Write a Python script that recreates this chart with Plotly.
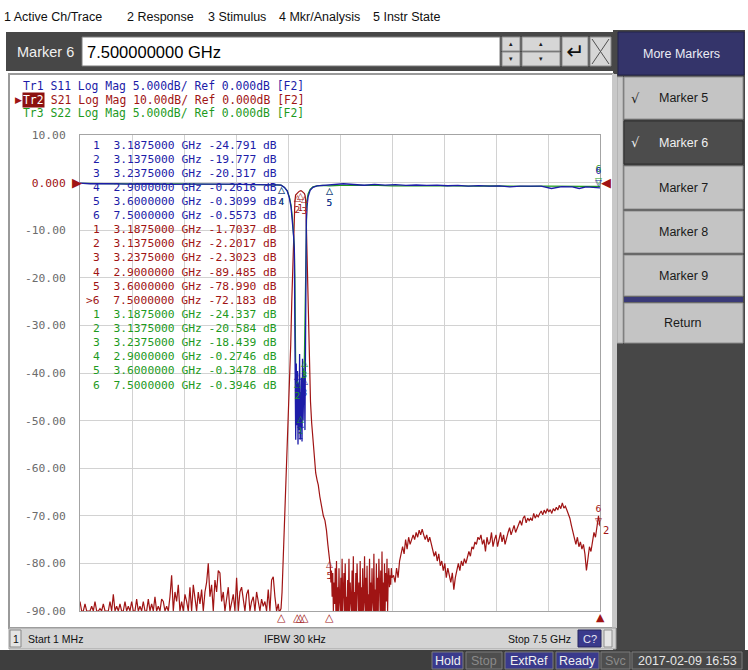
import numpy as np
import plotly.graph_objects as go

# ------------------------------------------------------------------ data
marker_ids = ["1", "2", "3", "4", "5", "6"]
marker_freq_ghz = [3.1875, 3.1375, 3.2375, 2.9, 3.6, 7.5]
s11_marker_db = [-24.791, -19.777, -20.317, -0.2616, -0.3099, -0.5573]
s21_marker_db = [-1.7037, -2.2017, -2.3023, -89.485, -78.990, -72.183]
s22_marker_db = [-24.337, -20.584, -18.439, -0.2746, -0.3478, -0.3946]
active_marker = "6"

y_tick_vals = [10, 0, -10, -20, -30, -40, -50, -60, -70, -80, -90]

# S21 (10 dB/div) - low-frequency noise floor, sweep grid 0.001..2.86 GHz
s21_low_f = np.linspace(0.001, 2.86, 120)
s21_low_db = [
    -88, -90, -90, -88.5, -90, -90, -90, -89, -90, -88, -90, -90, -89.5, -90, -88.5,
    -90, -90, -90, -88, -90, -86.5, -90, -89, -90, -88.5, -90, -90, -88, -90, -89,
    -90, -88, -90, -90, -87.5, -90, -89, -90, -88, -90, -90, -87.5, -90, -88.5, -90,
    -87, -90, -89, -90, -87.5, -88, -90, -89, -90, -87, -82.5, -90, -86, -88, -84.5,
    -90, -88,
    -90, -86.5, -88, -90, -85, -90, -84.5, -87, -90, -86, -88.5, -85.5, -90, -86, -84,
    -80, -87, -84.5, -90, -83.5, -86, -81.5, -82, -88, -86, -90, -87.5, -85, -90, -88,
    -86.5, -90,
    -83, -90, -86, -85, -88, -90, -86.5, -85.5, -90, -88, -87, -90, -86, -88.5, -90,
    -87.5, -89, -88, -90, -85.5, -90, -83.5, -82.8, -87, -90, -88.5,
]
# S21 - passband lobe
s21_lobe_f = [2.872, 2.885, 2.9, 2.915, 2.93, 2.945, 2.96, 2.98, 3.0, 3.02,
              3.04, 3.055, 3.07, 3.082, 3.092, 3.1, 3.11, 3.125, 3.1375, 3.15,
              3.165, 3.175, 3.1875, 3.2, 3.215, 3.228, 3.2375, 3.248, 3.256, 3.263,
              3.27, 3.28, 3.293, 3.31, 3.325, 3.342, 3.36, 3.38, 3.4, 3.42,
              3.437, 3.46, 3.485, 3.51, 3.534, 3.555, 3.575, 3.59, 3.6]
s21_lobe_db = [-90, -90, -89.485, -86, -80, -74, -69, -62, -54, -45,
               -34, -25, -16, -11, -7, -4, -2.6, -2.3, -2.2017, -2.0,
               -1.8, -1.75, -1.7037, -1.8, -2.0, -2.2, -2.3023, -2.8, -4, -7.5,
               -12, -19, -30, -40, -46, -50.5, -54.5, -58, -61, -62.5,
               -63.5, -66, -68.5, -70, -71, -73, -76, -78, -78.99]
# S21 - dense noise just above the passband, sweep grid 3.61..4.50 GHz
s21_noise_f = np.linspace(3.61, 4.50, 100)
s21_noise_db = [
    -80.5, -84, -81.5, -87, -82, -90, -84, -88.5, -81, -90,
    -79.5, -90, -85, -90, -81, -88, -90, -83, -90, -79,
    -90, -86, -82, -90, -80, -90, -87, -90, -83.5, -90,
    -79, -90, -84, -88, -90, -81.5, -90, -78.5, -90, -86,
    -90, -82, -90, -80, -87, -90, -84, -90, -79.5, -90,
    -85, -90, -81, -90, -88, -78.5, -90, -83, -90, -80.5,
    -90, -86.5, -90, -79, -90, -84, -90, -81, -88, -90,
    -78, -90, -85.5, -90, -80, -90, -83, -90, -79, -87,
    -90, -81.5, -90, -77.5, -90, -84, -90, -80, -90, -82,
    -88, -79, -90, -83, -81, -85, -82.5, -84.5, -81, -83,
]
# S21 - upper stopband, sweep grid 4.52..7.5 GHz
s21_high_f = np.linspace(4.5227, 7.5, 138)
s21_high_db = [
    -82.5, -84, -81, -83, -79.5, -78,
    -76.5, -78, -75, -77, -74.5, -76, -75, -74,
    -75, -73.5, -74.5, -73, -74, -72.8, -74,
    -75, -74, -75.5, -74.5, -76,
    -77, -78.5, -77.5, -79.5, -78, -80.5, -79.5,
    -81.5, -80, -83, -81, -82.5, -84, -82, -85.5, -83, -81,
    -80, -81.5, -79.5, -80.5, -79, -80, -78.5,
    -77.5, -78.5, -76.5, -77, -75.5, -76, -74.5, -75,
    -74, -76, -75, -77.5, -74.5, -76, -75.5, -73.5, -76.5, -75, -74, -76.5, -75,
    -73.5, -75.5, -74, -76, -74.5,
    -73.5, -72.5, -74, -73, -72, -73.5, -72.5, -71.5,
    -71, -72, -70.5, -70, -71.5, -70.5, -71,
    -70.5, -71, -69.5, -70.5, -69.8, -70.2, -69.5,
    -69, -69.8, -68.8, -69.5, -68.5, -69.2, -68.7, -69.5, -68.5, -69,
    -68.2, -68.8, -67.8, -68.5, -67.3, -68.4, -68, -68.8,
    -69.5, -70.5, -72, -73.5,
    -75, -76, -74.5, -76.5, -75.5, -77, -76,
    -78, -81.5, -79, -76.5, -77.5,
    -75, -73.5, -74.5, -71.5, -70, -72.183,
]

# S11 (5 dB/div)
s11_f = [0.001, 0.15, 0.4, 0.7, 1.0, 1.3, 1.6, 1.9, 2.2, 2.5,
         2.7, 2.85, 2.9, 2.95, 2.99, 3.02, 3.045, 3.065, 3.08, 3.092,
         3.1, 3.105, 3.112, 3.12, 3.128, 3.1375, 3.145, 3.152, 3.16, 3.168,
         3.176, 3.1875, 3.195, 3.203, 3.21, 3.218, 3.226, 3.2375, 3.245, 3.252,
         3.258, 3.265, 3.275, 3.29, 3.32, 3.36, 3.42, 3.5, 3.6,
         3.7, 3.8, 3.95, 4.1, 4.25, 4.4, 4.55, 4.7, 4.85, 5.0,
         5.15, 5.3, 5.45, 5.6, 5.75, 5.9, 6.05, 6.2, 6.35, 6.5,
         6.65, 6.8, 6.95, 7.1, 7.2, 7.3, 7.4, 7.5]
s11_db = [-0.05, -0.12, -0.1, -0.15, -0.12, -0.18, -0.15, -0.2, -0.17, -0.22,
          -0.2, -0.24, -0.2616, -0.5, -0.9, -1.6, -2.6, -4, -5.5, -7,
          -12, -21, -27, -19, -25.5, -19.777, -27.5, -21, -26, -18,
          -27, -24.791, -20.5, -27.2, -18.5, -25, -22, -20.317, -26, -16,
          -7, -4, -2.5, -1.5, -0.8, -0.5, -0.35, -0.3, -0.3099,
          -0.25, -0.12, -0.2, -0.28, -0.18, -0.26, -0.22, -0.3, -0.25, -0.3,
          -0.27, -0.33, -0.3, -0.36, -0.32, -0.38, -0.34, -0.45, -0.36, -0.4,
          -0.38, -0.62, -0.42, -0.45, -0.62, -0.44, -0.5, -0.5573]

# S22 (5 dB/div)
s22_f = [0.001, 0.2, 0.5, 0.8, 1.1, 1.4, 1.7, 2.0, 2.3, 2.6,
         2.8, 2.9, 2.95, 2.99, 3.02, 3.045, 3.065, 3.08, 3.092, 3.1,
         3.108, 3.116, 3.124, 3.1375, 3.148, 3.158, 3.168, 3.178, 3.1875, 3.197,
         3.207, 3.217, 3.227, 3.2375, 3.246, 3.254, 3.262, 3.272, 3.29, 3.32,
         3.36, 3.42, 3.5, 3.6, 3.75, 3.9, 4.1, 4.3, 4.5, 4.7,
         4.9, 5.1, 5.3, 5.5, 5.7, 5.9, 6.1, 6.3, 6.5, 6.7,
         6.9, 7.1, 7.3, 7.5]
s22_db = [-0.08, -0.1, -0.14, -0.12, -0.16, -0.14, -0.18, -0.16, -0.2, -0.22,
          -0.25, -0.2746, -0.5, -0.85, -1.5, -2.4, -3.8, -5.2, -6.8, -10,
          -18.5, -23, -20, -20.584, -24.5, -21.5, -25.5, -22, -24.337, -21,
          -25, -19.5, -23, -18.439, -15, -7, -3.5, -2, -1.2, -0.7,
          -0.45, -0.35, -0.3, -0.3478, -0.3, -0.28, -0.32, -0.3, -0.34, -0.31,
          -0.35, -0.33, -0.36, -0.34, -0.37, -0.35, -0.38, -0.36, -0.39, -0.37,
          -0.4, -0.38, -0.39, -0.3946]

assert len(s21_low_db) == len(s21_low_f)
assert len(s21_lobe_db) == len(s21_lobe_f)
assert len(s21_noise_db) == len(s21_noise_f)
assert len(s21_high_db) == len(s21_high_f)
assert len(s11_db) == len(s11_f)
assert len(s22_db) == len(s22_f)

s21_f = list(s21_low_f) + s21_lobe_f + list(s21_noise_f) + list(s21_high_f)
s21_db = s21_low_db + s21_lobe_db + s21_noise_db + s21_high_db

# ------------------------------------------------------------------ style
C11 = "#1c1ca8"
C21 = "#a01414"
C22 = "#1e9a1e"
MONO = "DejaVu Sans Mono"
UI = "Liberation Sans, Arial"
SYM = "DejaVu Sans"

W, H = 748, 670
L, R, T, B = 80, 600, 135, 611


def PX(x):
    return (x - L) / (R - L)


def PY(y):
    return (B - y) / (B - T)


shapes = []
annotations = []


def rect(x0, y0, x1, y1, fill, line=None, lw=1):
    shapes.append(dict(type="rect", xref="paper", yref="paper",
                       x0=PX(x0), x1=PX(x1), y0=PY(y1), y1=PY(y0),
                       fillcolor=fill,
                       line=dict(color=line if line else fill, width=lw if line else 0),
                       layer="below"))


def seg(x0, y0, x1, y1, color, lw=1):
    shapes.append(dict(type="line", xref="paper", yref="paper",
                       x0=PX(x0), x1=PX(x1), y0=PY(y0), y1=PY(y1),
                       line=dict(color=color, width=lw), layer="below"))


def text(x, y, s, size=12, color="black", family=UI, xanchor="left",
         yanchor="middle", xref="paper", yref="paper", **kw):
    annotations.append(dict(
        x=PX(x) if xref == "paper" else x,
        y=PY(y) if yref == "paper" else y,
        xref=xref, yref=yref, text=s, showarrow=False,
        font=dict(size=size, color=color, family=family),
        xanchor=xanchor, yanchor=yanchor, borderpad=0, **kw))


# ------------------------------------------------------------------ chrome
# menu row
menu = [(3, "1 Active Ch/Trace"), (126, "2 Response"), (207, "3 Stimulus"),
        (278, "4 Mkr/Analysis"), (372, "5 Instr State")]
for x, s in menu:
    text(x, 17, s, size=12.5, color="#101010")

# entry bar
rect(6, 32, 614, 71, "#474747")
text(16, 52, "Marker 6", size=14.5, color="#f0f0f0")
rect(82, 37, 500, 66, "#ffffff", "#7a7a7a")
text(86, 52, "7.500000000 GHz", size=16.5, color="#000000")
for x0, x1 in [(502, 520), (522, 560)]:
    rect(x0, 37, x1, 51, "#d6d6d6", "#8a8a8a")
    rect(x0, 52, x1, 66, "#d6d6d6", "#8a8a8a")
    text((x0 + x1) / 2, 44, "▴", size=7, color="#202020", family=SYM, xanchor="center")
    text((x0 + x1) / 2, 59, "▾", size=7, color="#202020", family=SYM, xanchor="center")
rect(562, 37, 588, 66, "#d6d6d6", "#8a8a8a")
text(575, 52, "↵", size=22, color="#101010", family=SYM, xanchor="center")
rect(590, 37, 611, 66, "#d6d6d6", "#8a8a8a")
seg(592, 39, 609, 64, "#505050", 1)
seg(609, 39, 592, 64, "#505050", 1)

# right soft-key panel
rect(613, 30, 745, 650, "#474747")
rect(618, 32, 744, 75, "#34346a", "#22224a")
text(681, 54, "More Markers", size=12.5, color="#ececf4", xanchor="center")
rect(617, 77, 623, 343, "#c8c8c8", "#a0a0a0")
buttons = [(77, 119, "Marker 5", False, True), (121, 164, "Marker 6", True, True),
           (166, 209, "Marker 7", False, False), (211, 253, "Marker 8", False, False),
           (255, 296, "Marker 9", False, False), (303, 343, "Return", False, False)]
for y0, y1, lab, dark, chk in buttons:
    rect(624, y0, 743, y1, "#4c4c4c" if dark else "#c4c4c4",
         "#2e2e2e" if dark else "#8c8c8c")
    col = "#f0f0f0" if dark else "#1a1a1a"
    text(683, (y0 + y1) / 2, lab, size=12.5, color=col, xanchor="center")
    if chk:
        text(630, (y0 + y1) / 2, "√", size=13, color=col, family=SYM)
rect(624, 297, 743, 302, "#3a3a78")

# plot panel
rect(9, 74, 613, 628, "#ffffff", "#9a9a9a", 2)
rect(612, 74, 617, 628, "#c8c8c8")

# status bar inside panel
rect(9, 628, 616, 649, "#d4d4d4", "#a0a0a0")
rect(10, 630, 21, 647, "#e4e4e4", "#888888")
text(15.5, 638.5, "1", size=10.5, color="#101010", xanchor="center")
text(27, 638.5, "Start 1 MHz", size=10.5, color="#101010")
text(295, 638.5, "IFBW 30 kHz", size=10.5, color="#101010", xanchor="center")
text(572, 638.5, "Stop 7.5 GHz", size=10.5, color="#101010", xanchor="right")
rect(578, 630, 601, 647, "#3a3a8c", "#26265c")
text(589.5, 638.5, "C?", size=11, color="#e8e8f4", xanchor="center")
rect(604, 630, 612, 647, "#e6e6e6", "#909090")

# bottom bar
rect(0, 650, 748, 670, "#3e3e3e")
boxes = [(432, 463, "Hold", "#3a3a8c", "#f0f0f0"),
         (466, 502, "Stop", "#4e4e4e", "#8a8a8a"),
         (505, 553, "ExtRef", "#3a3a8c", "#f0f0f0"),
         (556, 599, "Ready", "#3a3a8c", "#f0f0f0"),
         (601, 630, "Svc", "#4e4e4e", "#8a8a8a"),
         (632, 742, "2017-02-09 16:53", "#484848", "#e6e6e6")]
for x0, x1, lab, fill, col in boxes:
    rect(x0, 652, x1, 669, fill, "#7a7a7a")
    text((x0 + x1) / 2, 661, lab, size=12.5, color=col, xanchor="center")

# trace header
text(22, 86, "Tr1 S11 Log Mag 5.000dB/ Ref 0.000dB [F2]".replace(" ", "\u00a0"),
     size=11.4, color=C11, family=MONO)
text(14, 99.5, "▶", size=9, color=C21, family=SYM)
text(22, 99.5, "Tr2", size=11.4, color="#ffffff", family=MONO, bgcolor="#8c1010")
text(22 + 3 * 6.86, 99.5, "\u00a0S21 Log Mag 10.00dB/ Ref 0.000dB [F2]".replace(" ", "\u00a0"),
     size=11.4, color=C21, family=MONO)
text(22, 113, "Tr3 S22 Log Mag 5.000dB/ Ref 0.000dB [F2]".replace(" ", "\u00a0"),
     size=11.4, color=C22, family=MONO)


# marker table
def fmt_val(v):
    return f"{v:.3f}" if abs(v) >= 10 else f"{v:.4f}"


row = 0
for vals, col in [(s11_marker_db, C11), (s21_marker_db, C21), (s22_marker_db, C22)]:
    for mid, f, v in zip(marker_ids, marker_freq_ghz, vals):
        line = f"{mid}  {f:.7f} GHz {fmt_val(v):>7} dB".replace(" ", "\u00a0")
        y = 145 + row * 14.12
        x = 92
        if col == C21 and mid == active_marker:
            line = ">" + line
            x = 92 - 6.8
        text(x, y, line, size=11.3, color=col, family=MONO)
        row += 1

# ref-position indicators
text(71, 0, "▶", size=13, color=C21, family=SYM, yref="y")
text(600, 0, "◀", size=13, color=C21, family=SYM, yref="y")

# marker glyphs on traces
for vals, col, yr in [(s22_marker_db, C22, "y2"), (s11_marker_db, C11, "y2"),
                      (s21_marker_db, C21, "y")]:
    for mid, f, v in zip(marker_ids, marker_freq_ghz, vals):
        if yr == "y" and mid == "4":
            continue
        if mid == "6":
            annotations.append(dict(x=f, y=v, xref="x", yref=yr, text=f"{mid}<br>▽",
                                    showarrow=False, xanchor="center", yanchor="bottom",
                                    font=dict(size=9, color=col, family=SYM),
                                    borderpad=0, yshift=-1, xshift=-2))
        else:
            annotations.append(dict(x=f, y=v, xref="x", yref=yr, text=f"△<br>{mid}",
                                    showarrow=False, xanchor="center", yanchor="top",
                                    font=dict(size=9, color=col, family=SYM),
                                    borderpad=0, yshift=1))
annotations.append(dict(x=marker_freq_ghz[5], y=s21_marker_db[5], xref="x", yref="y",
                        text="2", showarrow=False, xanchor="left", yanchor="top",
                        font=dict(size=10, color=C21, family=SYM), xshift=1, yshift=3))

# stimulus indicators below the grid
for mid, f in zip(marker_ids, marker_freq_ghz):
    annotations.append(dict(x=f, y=PY(617), xref="x", yref="paper",
                            text="▲" if mid == active_marker else "△",
                            showarrow=False, xanchor="center", yanchor="middle",
                            font=dict(size=11, color=C21, family=SYM), borderpad=0))

# ------------------------------------------------------------------ traces
fig = go.Figure()
fig.add_trace(go.Scatter(x=s22_f, y=s22_db, mode="lines", yaxis="y2",
                         line=dict(color=C22, width=1.2), name="S22"))
fig.add_trace(go.Scatter(x=s21_f, y=s21_db, mode="lines",
                         line=dict(color=C21, width=1.2), name="S21"))
fig.add_trace(go.Scatter(x=s11_f, y=s11_db, mode="lines", yaxis="y2",
                         line=dict(color=C11, width=1.3), name="S11"))

tick_text = []
for v in y_tick_vals:
    if v == 0:
        tick_text.append(f"<span style='color:{C21}'>0.000</span>")
    else:
        tick_text.append(f"{v:.2f}")

fig.update_layout(
    width=W, height=H,
    margin=dict(l=L, r=W - R, t=T, b=H - B, pad=0),
    paper_bgcolor="#ffffff", plot_bgcolor="#ffffff",
    showlegend=False,
    xaxis=dict(range=[0.001, 7.5], tick0=0.001, dtick=0.7499, showgrid=True,
               gridcolor="#d2d2d2", gridwidth=1, showticklabels=False, ticks="",
               zeroline=False, showline=True, linecolor="#a4a4a4", linewidth=1,
               mirror=True, fixedrange=True),
    yaxis=dict(range=[-90, 10], tickmode="array", tickvals=y_tick_vals, ticktext=tick_text,
               tickfont=dict(family=MONO, size=11.3, color="#6c6c6c"),
               showgrid=True, gridcolor="#d2d2d2", gridwidth=1, ticks="",
               ticklabelstandoff=11, zeroline=False, showline=True,
               linecolor="#a4a4a4", linewidth=1, mirror=True, fixedrange=True),
    yaxis2=dict(range=[-45, 5], overlaying="y", visible=False, fixedrange=True),
    shapes=shapes,
    annotations=annotations,
)

fig.write_html(
    "out.html",
    config={"displayModeBar": False},
    post_script="document.body.style.margin='0';document.body.style.overflow='hidden';",
)
